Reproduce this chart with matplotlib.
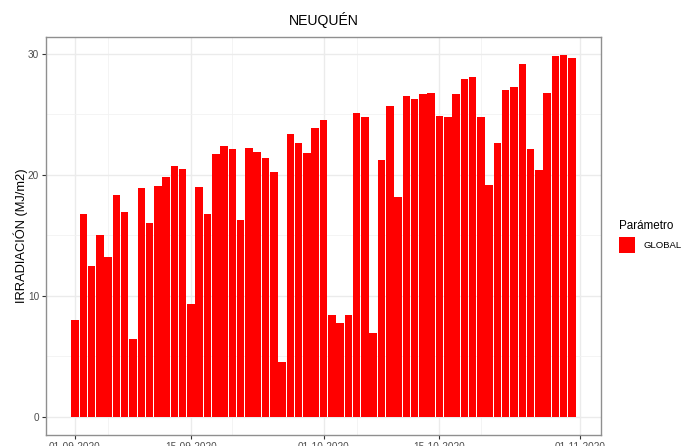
import numpy as np
import pandas as pd
import matplotlib
matplotlib.use("Agg")
import matplotlib.dates as mdates
from matplotlib import pyplot as plt
from matplotlib.patches import Rectangle

plt.rcParams['font.family'] = ['Liberation Sans', 'DejaVu Sans']

# daily global irradiation, Neuquén, 01-09-2020 .. 31-10-2020
fechas = pd.date_range("2020-09-01", "2020-10-31", freq="D")
global_mj = [
    8.0, 16.8, 12.5, 15.0, 13.2, 18.3, 16.9, 6.4, 18.9, 16.0,
    19.1, 19.8, 20.7, 20.5, 9.3, 19.0, 16.8, 21.7, 22.4, 22.1,
    16.3, 22.2, 21.9, 21.4, 20.2, 4.5, 23.4, 22.6, 21.8, 23.9,
    24.5, 8.4, 7.8, 8.4, 25.1, 24.8, 6.9, 21.2, 25.7, 18.2,
    26.5, 26.3, 26.7, 26.8, 24.9, 24.8, 26.7, 27.9, 28.1, 24.8,
    19.2, 22.6, 27.0, 27.3, 29.2, 22.1, 20.4, 26.8, 29.8, 29.9,
    29.7,
]
ticks_mayores = pd.to_datetime(["2020-09-01", "2020-09-15", "2020-10-01", "2020-10-15", "2020-11-01"])
ticks_menores = pd.to_datetime(["2020-09-05", "2020-09-20", "2020-10-05", "2020-10-20"])
parametro = "GLOBAL"

fig = plt.figure(figsize=(6.96, 4.46), dpi=100)
ax = fig.add_axes([46 / 696, 11 / 446, 555 / 696, 398 / 446])

ax.bar(fechas, global_mj, width=0.9, color="#FF0000", linewidth=0, zorder=3)

x0 = mdates.date2num(fechas[0]) - 0.45
x1 = mdates.date2num(fechas[-1]) + 0.45
pad = (x1 - x0) * 0.05
ax.set_xlim(x0 - pad, x1 + pad)
ymax = max(global_mj)
ax.set_ylim(-ymax * 0.05, ymax * 1.05)

ax.set_xticks(ticks_mayores)
ax.xaxis.set_major_formatter(mdates.DateFormatter("%d-%m-%Y"))
ax.set_xticks(ticks_menores, minor=True)
ax.set_yticks([0, 10, 20, 30])
ax.set_yticks([5, 15, 25], minor=True)

ax.grid(which="major", color="#EBEBEB", linewidth=1.0, zorder=0)
ax.grid(which="minor", color="#F2F2F2", linewidth=0.6, zorder=0)
ax.tick_params(which="major", length=3, width=0.8, color="#333333",
               labelcolor="#4D4D4D", labelsize=7.2, pad=2)
ax.tick_params(which="minor", length=0)
for s in ax.spines.values():
    s.set_color("#8F8F8F")
    s.set_linewidth(1.0)

ax.set_title("NEUQUÉN", fontsize=10.1, pad=9)
ax.set_ylabel("IRRADIACIÓN (MJ/m2)", fontsize=9.3, labelpad=0)

# legend
fig.text(619 / 696, 1 - 229 / 446, "Parámetro", fontsize=8.4, ha="left", va="baseline")
fig.patches.append(Rectangle((619 / 696, 1 - 253 / 446), 16 / 696, 16 / 446,
                             transform=fig.transFigure, facecolor="#FF0000",
                             edgecolor="none"))
fig.text(643 / 696, 1 - 245 / 446, parametro, fontsize=6.8, ha="left", va="center")

fig.savefig("out.png", dpi=100)
